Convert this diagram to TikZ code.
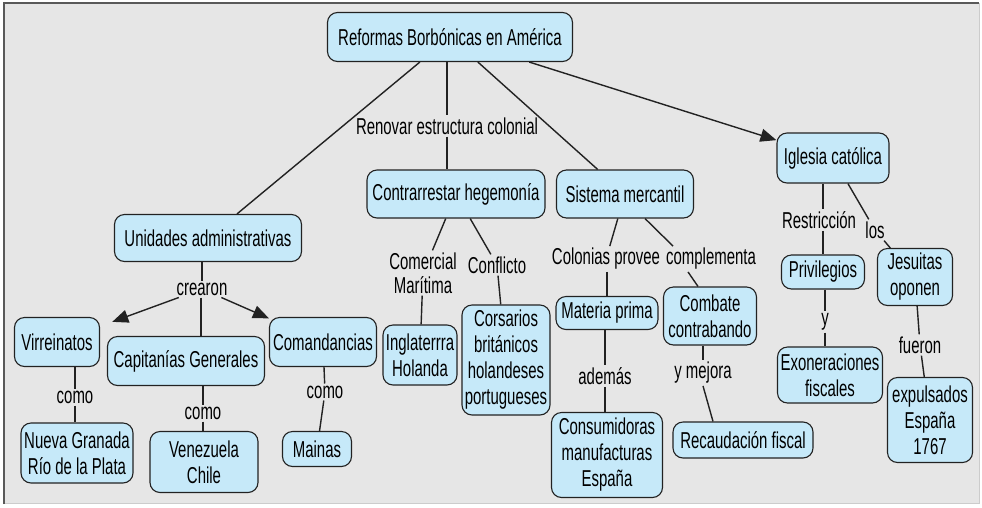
\documentclass[tikz,border=0pt]{standalone}
\usepackage{fontspec}
\setmainfont[FakeStretch=0.65]{Liberation Sans}
\usetikzlibrary{arrows.meta,calc}
\definecolor{bggray}{HTML}{E6E6E6}
\definecolor{nodefill}{HTML}{C6E9F9}
\definecolor{edgecol}{HTML}{222222}
\tikzset{
  concept/.style={draw=edgecol, fill=nodefill, rounded corners=10pt, line width=1.1pt,
    align=center, inner sep=2pt, font=\fontsize{23}{26}\selectfont},
  linklabel/.style={align=center, inner sep=2pt, font=\fontsize{23}{24}\selectfont},
  link/.style={draw=edgecol, line width=1.4pt},
  arrowlink/.style={link, -{Triangle[length=16pt,width=13pt]}}
}
\begin{document}
\begin{tikzpicture}[x=1pt,y=-1pt]
\useasboundingbox (0,0) rectangle (982,507);
\fill[white] (0,0) rectangle (982,507);
\fill[bggray] (4,3) rectangle (979,503);
\draw[line width=1pt, color=black!20] (979,3) -- (979,503) -- (4,503);
\draw[line width=2pt, color=black!65] (4,504) -- (4,3) -- (979,3);

% concepts
\node[concept, minimum width=245pt, minimum height=49pt] (ref) at (450,37) {Reformas Borbónicas en América};
\node[concept, minimum width=178pt, minimum height=48pt] (contra) at (456,194) {Contrarrestar hegemonía};
\node[concept, minimum width=137pt, minimum height=48pt] (sist) at (625,194) {Sistema mercantil};
\node[concept, minimum width=112pt, minimum height=50pt] (igl) at (833,158) {Iglesia católica};
\node[concept, minimum width=187pt, minimum height=47pt] (unid) at (208,238) {Unidades administrativas};
\node[concept, minimum width=85pt, minimum height=49pt] (virr) at (57,342) {Virreinatos};
\node[concept, minimum width=157pt, minimum height=49pt] (capi) at (186,361) {Capitanías Generales};
\node[concept, minimum width=107pt, minimum height=49pt] (coman) at (323,342) {Comandancias};
\node[concept, minimum width=112pt, minimum height=60pt] (nueva) at (77,453) {Nueva Granada\\Río de la Plata};
\node[concept, minimum width=108pt, minimum height=61pt] (vene) at (204,462) {Venezuela\\Chile};
\node[concept, minimum width=69pt, minimum height=35pt] (mainas) at (317,449) {Mainas};
\node[concept, minimum width=74pt, minimum height=60pt] (ingl) at (420,355) {Inglaterrra\\Holanda};
\node[concept, minimum width=88pt, minimum height=110pt] (cors) at (506,360) {Corsarios\\británicos\\holandeses\\portugueses};
\node[concept, minimum width=102pt, minimum height=33pt] (mat) at (607,313) {Materia prima};
\node[concept, minimum width=93pt, minimum height=58pt] (comb) at (710,316) {Combate\\contrabando};
\node[concept, minimum width=111pt, minimum height=85pt] (cons) at (607,455) {Consumidoras\\manufacturas\\España};
\node[concept, minimum width=140pt, minimum height=36pt] (reca) at (743,440) {Recaudación fiscal};
\node[concept, minimum width=83pt, minimum height=34pt] (priv) at (823,272) {Privilegios};
\node[concept, minimum width=105pt, minimum height=56pt] (exon) at (830,375) {Exoneraciones\\fiscales};
\node[concept, minimum width=75pt, minimum height=57pt] (jes) at (915,277) {Jesuitas\\oponen};
\node[concept, minimum width=85pt, minimum height=85pt] (expu) at (930,420) {expulsados\\España\\1767};

% link labels
\node[linklabel] (renov) at (447,126) {Renovar estructura colonial};
\node[linklabel] (crear) at (202,289) {crearon};
\node[linklabel] (como1) at (75,397) {como};
\node[linklabel] (como2) at (203,413) {como};
\node[linklabel] (como3) at (325,392) {como};
\node[linklabel] (comer) at (423,273) {Comercial\\Marítima};
\node[linklabel] (confl) at (497,265) {Conflicto};
\node[linklabel] (colon) at (606,259) {Colonias provee};
\node[linklabel] (compl) at (711,259) {complementa};
\node[linklabel] (ademas) at (605,376) {además};
\node[linklabel] (ymej) at (703,373) {y mejora};
\node[linklabel] (restr) at (819,220) {Restricción};
\node[linklabel] (los) at (875,230) {los};
\node[linklabel] (yy) at (825,322) {y};
\node[linklabel] (fuer) at (920,345) {fueron};

% connectors
\draw[link] (ref) -- (unid);
\draw[link] (ref.south -| renov.north) -- (renov.north);
\draw[link] (renov.south) -- (renov.south |- contra.north);
\draw[link] (ref) -- (sist);
\draw[arrowlink] (ref) -- (igl);

\draw[link] (unid.south -| crear.north) -- (crear.north);
\draw[arrowlink, shorten >=13pt] (crear) -- (virr);
\draw[link] ($(crear.south)+(-1,0)$) -- ($(crear.south |- capi.north)+(-1,0)$);
\draw[arrowlink] (crear) -- (coman);

\draw[link] (virr.south -| como1.north) -- (como1.north);
\draw[link] (como1.south) -- (como1.south |- nueva.north);
\draw[link] (capi.south -| como2.north) -- (como2.north);
\draw[link] (como2.south) -- (como2.south |- vene.north);
\draw[link] (coman) -- (como3);
\draw[link] (como3) -- (mainas);

\draw[link] (contra) -- (comer);
\draw[link] (comer) -- (ingl);
\draw[link] (contra) -- (confl);
\draw[link] (confl) -- (cors);

\draw[link] (sist) -- (colon);
\draw[link] ($(sist.south)+(20,0)$) -- ($(compl.north)+(-38,0)$);
\draw[link] (colon.south -| mat.north) -- (mat.north);
\draw[link] ($(compl.south)+(-23,0)$) -- ($(comb.north)+(-12,0)$);
\draw[link] (mat.south -| ademas.north) -- (ademas.north);
\draw[link] (ademas.south) -- (ademas.south |- cons.north);
\draw[link] (comb.south -| ymej.north) -- (ymej.north);
\draw[link] (ymej.south) -- ($(reca.north)+(-30,0)$);

\draw[link] (igl.south -| priv.north) -- (restr.north -| priv.north);
\draw[link] (restr.south -| priv.north) -- (priv.north);
\draw[link] (igl) -- (los);
\draw[link] (los) -- (jes);
\draw[link] (priv.south -| yy.north) -- (yy.north);
\draw[link] (yy.south) -- (yy.south |- exon.north);
\draw[link] (jes) -- (fuer);
\draw[link] (fuer) -- (expu);
\end{tikzpicture}
\end{document}
